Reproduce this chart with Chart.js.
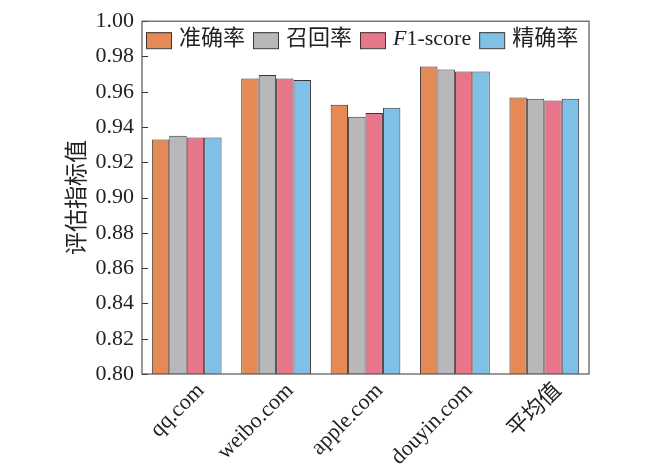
<!DOCTYPE html>
<html>
<head>
<meta charset="utf-8">
<script src="https://cdn.jsdelivr.net/npm/chart.js@4.4.1/dist/chart.umd.min.js"></script>
<style>
  html, body { margin: 0; padding: 0; background: #fff; }
  canvas { display: block; }
</style>
</head>
<body>
<canvas id="barChart" width="650" height="473"></canvas>
<script>
// Data
const categories = ['qq.com', 'weibo.com', 'apple.com', 'douyin.com', '平均值'];
const seriesNames = ['准确率', '召回率', 'F1-score', '精确率'];
const accuracy = [0.933, 0.9675, 0.9527, 0.9743, 0.9568];
const recall = [0.935, 0.9695, 0.9459, 0.9726, 0.9561];
const f1score = [0.934, 0.9675, 0.9479, 0.9715, 0.9550];
const precision = [0.934, 0.9666, 0.9510, 0.9715, 0.9561];
const yTicks = [0.80, 0.82, 0.84, 0.86, 0.88, 0.90, 0.92, 0.94, 0.96, 0.98, 1.00];

const fills = ['#e58a54', '#b8b7b9', '#e8768b', '#7fc0e6'];
const serif = "'Liberation Serif', 'Noto Sans CJK SC', serif";

// inward ticks on the left axis + frame round the plot
const frameAndTicks = {
    id: 'frameAndTicks',
    afterDatasetsDraw(chart) {
        const ctx = chart.ctx;
        const area = chart.chartArea;
        const y = chart.scales.y;
        ctx.save();
        ctx.strokeStyle = '#333';
        ctx.lineWidth = 1;
        yTicks.forEach(v => {
            const py = Math.round(y.getPixelForValue(v)) + 0.5;
            ctx.beginPath();
            ctx.moveTo(area.left, py);
            ctx.lineTo(area.left + 6, py);
            ctx.stroke();
        });
        ctx.strokeStyle = '#555';
        ctx.lineWidth = 1.2;
        ctx.strokeRect(area.left, area.top, area.right - area.left, area.bottom - area.top);
        ctx.restore();
    }
};

// legend drawn inside the plot area, with an italic F in F1-score
const innerLegend = {
    id: 'innerLegend',
    afterDatasetsDraw(chart) {
        const ctx = chart.ctx;
        const area = chart.chartArea;
        const font = '22px ' + serif;
        const italic = 'italic 22px ' + serif;
        let x = area.left + 4;
        const boxTop = area.top + 11;
        const textY = area.top + 18;
        ctx.save();
        ctx.textBaseline = 'middle';
        ctx.textAlign = 'left';
        chart.data.datasets.forEach((ds, i) => {
            ctx.fillStyle = ds.backgroundColor;
            ctx.fillRect(x, boxTop, 25, 16);
            ctx.strokeStyle = '#3a3434';
            ctx.lineWidth = 1;
            ctx.strokeRect(x + 0.5, boxTop + 0.5, 25, 16);
            x += 33;
            ctx.fillStyle = '#222';
            if (ds.label === 'F1-score') {
                ctx.font = italic;
                ctx.fillText('F', x, textY);
                x += ctx.measureText('F').width;
                ctx.font = font;
                ctx.fillText('1-score', x, textY);
                x += ctx.measureText('1-score').width;
            } else {
                ctx.font = font;
                ctx.fillText(ds.label, x, textY);
                x += ctx.measureText(ds.label).width;
            }
            x += 8;
        });
        ctx.restore();
    }
};

const seriesData = [accuracy, recall, f1score, precision];

const config = {
    type: 'bar',
    data: {
        labels: categories,
        datasets: seriesNames.map((name, i) => ({
            label: name,
            data: seriesData[i],
            backgroundColor: fills[i],
            borderColor: '#3d3535',
            borderWidth: 1,
            borderSkipped: false,
            categoryPercentage: 0.78,
            barPercentage: 1.0,
        })),
    },
    options: {
        responsive: false,
        animation: false,
        devicePixelRatio: 1,
        layout: {
            padding: { left: 60, right: 61, top: 13, bottom: 0 }
        },
        scales: {
            x: {
                grid: { display: false, drawTicks: false },
                border: { display: false },
                ticks: {
                    color: '#222',
                    font: { family: serif, size: 22 },
                    minRotation: 45,
                    maxRotation: 45,
                    padding: 4,
                    labelOffset: 14,
                },
                afterFit(scale) { scale.height = 99; },
            },
            y: {
                min: 0.8,
                max: 1.0,
                afterBuildTicks(scale) {
                    scale.ticks = yTicks.map(v => ({ value: v }));
                },
                grid: { display: false, drawTicks: false },
                border: { display: false },
                ticks: {
                    color: '#222',
                    font: { family: serif, size: 22 },
                    padding: 8,
                    callback: v => Number(v).toFixed(2),
                },
                title: {
                    display: true,
                    text: '评估指标值',
                    color: '#222',
                    font: { family: serif, size: 23 },
                    padding: { top: 4, bottom: 4 },
                },
                afterFit(scale) { scale.width = 82; },
            },
        },
        plugins: {
            legend: { display: false },
            tooltip: { enabled: false },
        },
    },
    plugins: [frameAndTicks, innerLegend],
};

new Chart(document.getElementById('barChart').getContext('2d'), config);
</script>
</body>
</html>
